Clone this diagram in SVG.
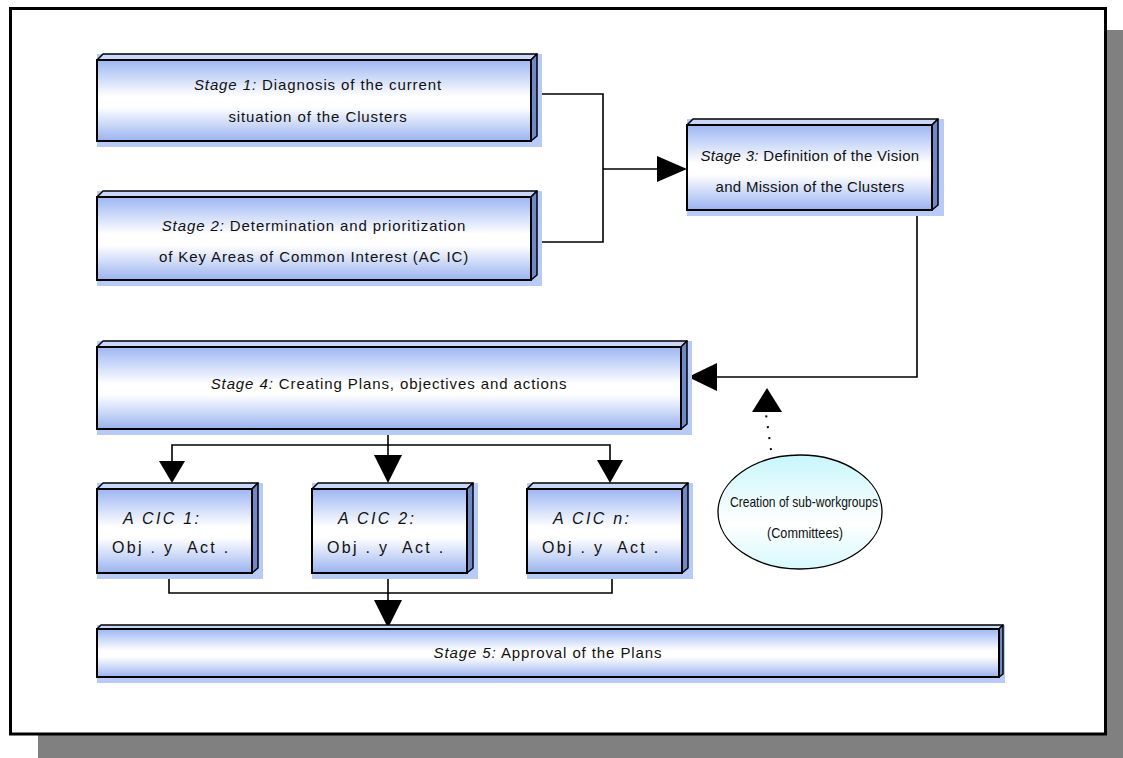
<svg xmlns="http://www.w3.org/2000/svg" width="1123" height="758" viewBox="0 0 1123 758">
  <defs>
    <linearGradient id="face" x1="0" y1="0" x2="0" y2="1">
      <stop offset="0" stop-color="#9db6f2"/>
      <stop offset="0.45" stop-color="#ffffff"/>
      <stop offset="0.58" stop-color="#ffffff"/>
      <stop offset="1" stop-color="#9ab3ef"/>
    </linearGradient>
    <linearGradient id="oval" x1="0" y1="0" x2="0" y2="1">
      <stop offset="0" stop-color="#c8f6fb"/>
      <stop offset="0.6" stop-color="#ffffff"/>
      <stop offset="1" stop-color="#d6f8fc"/>
    </linearGradient>
  </defs>
  <style>
    .glow { fill: #b8caf6; }
    .face { fill: url(#face); stroke: #000; stroke-width: 2; }
    .top { fill: #c9d7f8; stroke: #000; stroke-width: 1.5; stroke-linejoin: round; }
    .side { fill: #7088c8; stroke: #000; stroke-width: 1.5; stroke-linejoin: round; }
    .lbl { font-family: "Liberation Sans", Arial, sans-serif; font-size: 15px; letter-spacing: 0.9px; fill: #111; text-anchor: middle; }
    .note { font-family: "Liberation Sans", Arial, sans-serif; font-size: 14.5px; fill: #111; text-anchor: middle; }
    .it { font-style: italic; }
    .acic { font-family: "Liberation Sans", Arial, sans-serif; font-size: 16px; fill: #111; letter-spacing: 2.3px; white-space: pre; }
    .wire { fill: none; stroke: #000; stroke-width: 1.6; }
    .head { fill: #000; }
  </style>

  <!-- page with drop shadow -->
  <rect x="38" y="30" width="1085" height="728" fill="#808080"/>
  <rect x="10.5" y="8.5" width="1095" height="725.5" fill="#ffffff" stroke="#000" stroke-width="3"/>

  <!-- connectors -->
  <g id="connectors">
    <!-- stages 1 and 2 merge into stage 3 -->
    <polyline class="wire" points="537,94 603,94 603,242 537,242"/>
    <line class="wire" x1="603" y1="169" x2="657" y2="169"/>
    <polygon class="head" points="657,156 687,169 657,182"/>
    <!-- stage 3 down to stage 4 -->
    <polyline class="wire" points="917,210 917,377 717,377"/>
    <polygon class="head" points="717,363 688,377 717,391"/>
    <!-- committees (dotted) -->
    <line x1="771" y1="450" x2="766" y2="414" stroke="#000" stroke-width="2" stroke-dasharray="2 9"/>
    <polygon class="head" points="752,412 767,388 782,412"/>
    <!-- stage 4 fan out -->
    <line class="wire" x1="388" y1="429" x2="388" y2="456"/>
    <polyline class="wire" points="172,462 172,445 610,445 610,462"/>
    <polygon class="head" points="159,461 185,461 172,483"/>
    <polygon class="head" points="374,455 402,455 388,483"/>
    <polygon class="head" points="597,460 623,460 610,483"/>
    <!-- merge into stage 5 -->
    <polyline class="wire" points="169,573 169,593 612,593 612,573"/>
    <line class="wire" x1="388" y1="573" x2="388" y2="601"/>
    <polygon class="head" points="374,600 402,600 388,628"/>
  </g>

  <!-- stage 1 -->
  <g id="stage1">
    <rect class="glow" x="97" y="54" width="445" height="93"/>
    <polygon class="top" points="97,60 103,54 537,54 531,60"/>
    <polygon class="side" points="531,60 537,54 537,136 531,141"/>
    <rect class="face" x="97" y="60" width="434" height="81"/>
    <text class="lbl" x="318" y="90"><tspan class="it">Stage 1:</tspan> Diagnosis of the current</text>
    <text class="lbl" x="318" y="122">situation of the Clusters</text>
  </g>

  <!-- stage 2 -->
  <g id="stage2">
    <rect class="glow" x="97" y="191" width="445" height="95"/>
    <polygon class="top" points="97,197 103,191 537,191 531,197"/>
    <polygon class="side" points="531,197 537,191 537,275 531,280"/>
    <rect class="face" x="97" y="197" width="434" height="83"/>
    <text class="lbl" x="314" y="231"><tspan class="it">Stage 2:</tspan> Determination and prioritization</text>
    <text class="lbl" x="314" y="262">of Key Areas of Common Interest (AC IC)</text>
  </g>

  <!-- stage 3 -->
  <g id="stage3">
    <rect class="glow" x="687" y="119" width="257" height="97"/>
    <polygon class="top" points="687,125 693,119 938,119 932,125"/>
    <polygon class="side" points="932,125 938,119 938,205 932,210"/>
    <rect class="face" x="687" y="125" width="245" height="85"/>
    <text class="lbl" x="810" y="161" style="letter-spacing:0.3px"><tspan class="it">Stage 3:</tspan> Definition of the Vision</text>
    <text class="lbl" x="810" y="192" style="letter-spacing:0.3px">and Mission of the Clusters</text>
  </g>

  <!-- stage 4 -->
  <g id="stage4">
    <rect class="glow" x="97" y="341" width="595" height="94"/>
    <polygon class="top" points="97,347 103,341 687,341 681,347"/>
    <polygon class="side" points="681,347 687,341 687,424 681,429"/>
    <rect class="face" x="97" y="347" width="584" height="82"/>
    <text class="lbl" x="389" y="389"><tspan class="it">Stage 4:</tspan> Creating Plans, objectives and actions</text>
  </g>

  <!-- ACIC 1 -->
  <g id="acic1">
    <rect class="glow" x="97" y="483" width="166" height="96"/>
    <polygon class="top" points="97,489 103,483 258,483 252,489"/>
    <polygon class="side" points="252,489 258,483 258,568 252,573"/>
    <rect class="face" x="97" y="489" width="155" height="84"/>
    <text class="acic it" x="123" y="524">A CIC 1:</text>
    <text class="acic" x="112" y="553">Obj . y  Act .</text>
  </g>

  <!-- ACIC 2 -->
  <g id="acic2">
    <rect class="glow" x="312" y="483" width="166" height="96"/>
    <polygon class="top" points="312,489 318,483 473,483 467,489"/>
    <polygon class="side" points="467,489 473,483 473,568 467,573"/>
    <rect class="face" x="312" y="489" width="155" height="84"/>
    <text class="acic it" x="338" y="524">A CIC 2:</text>
    <text class="acic" x="327" y="553">Obj . y  Act .</text>
  </g>

  <!-- ACIC n -->
  <g id="acicn">
    <rect class="glow" x="527" y="483" width="166" height="96"/>
    <polygon class="top" points="527,489 533,483 688,483 682,489"/>
    <polygon class="side" points="682,489 688,483 688,568 682,573"/>
    <rect class="face" x="527" y="489" width="155" height="84"/>
    <text class="acic it" x="553" y="524">A CIC n:</text>
    <text class="acic" x="542" y="553">Obj . y  Act .</text>
  </g>

  <!-- committees -->
  <g id="committees">
    <ellipse cx="800" cy="512" rx="82" ry="57" fill="url(#oval)" stroke="#000" stroke-width="1.3"/>
    <text class="note" x="804" y="507" textLength="148" lengthAdjust="spacingAndGlyphs">Creation of sub-workgroups</text>
    <text class="note" x="805" y="538" textLength="76" lengthAdjust="spacingAndGlyphs">(Committees)</text>
  </g>

  <!-- stage 5 -->
  <g id="stage5">
    <rect class="glow" x="97" y="625" width="908" height="58"/>
    <polygon class="top" points="97,629 101,625 1003,625 999,629"/>
    <polygon class="side" points="999,629 1003,625 1003,674 999,677"/>
    <rect class="face" x="97" y="629" width="902" height="48"/>
    <text class="lbl" x="548" y="658"><tspan class="it">Stage 5:</tspan> Approval of the Plans</text>
  </g>
</svg>
